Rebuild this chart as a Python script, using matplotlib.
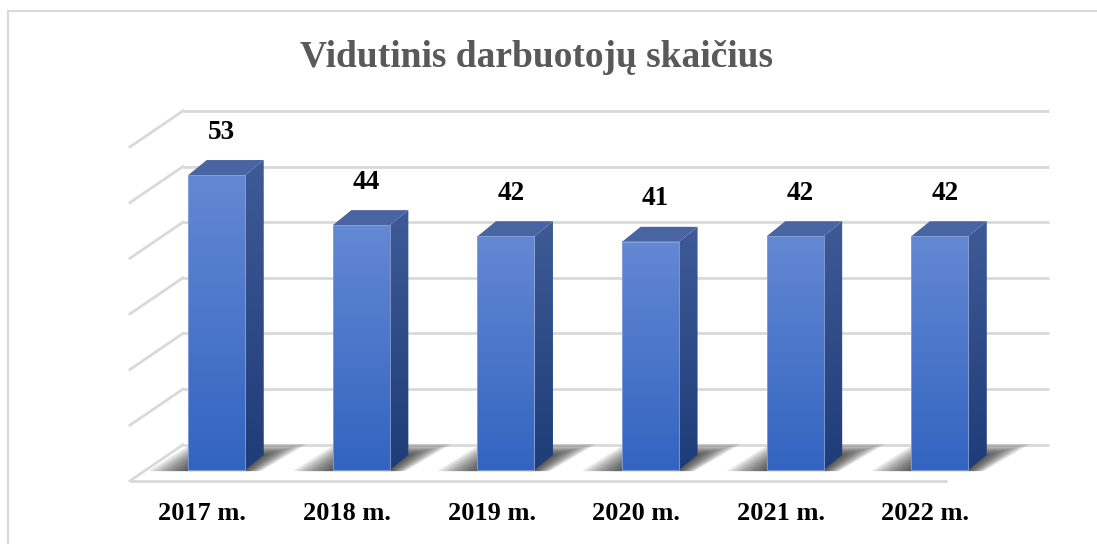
import numpy as np
import matplotlib
matplotlib.use("Agg")
import matplotlib.pyplot as plt
from matplotlib.patches import Polygon
from matplotlib.colors import LinearSegmentedColormap
from matplotlib.lines import Line2D

# ---- data ----
metai = ["2017 m.", "2018 m.", "2019 m.", "2020 m.", "2021 m.", "2022 m."]
darbuotojai = [53, 44, 42, 41, 42, 42]
tinklelis = [0, 10, 20, 30, 40, 50, 60]
pavadinimas = "Vidutinis darbuotojų skaičius"

# ---- pseudo 3D geometry (data units) ----
floor_dx, floor_dy = 0.366, 6.47      # full floor depth
bar_pos = 0.3                          # where bars stand inside the floor depth
bar_w = 0.394
bar_dx, bar_dy = 0.128, 2.7            # bar depth

front_top = LinearSegmentedColormap.from_list("f", ["#3264c1", "#6488d3"])
side_cmap = LinearSegmentedColormap.from_list("s", ["#1e3c77", "#3f5b97"])
grad = np.linspace(0, 1, 256).reshape(-1, 1)

fig = plt.figure(figsize=(10.97, 5.44), dpi=100)
ax = fig.add_axes([0, 0, 1, 1])
ax.axis("off")

n = len(metai)
grid_c = "#d9d9d9"

# back wall + left wall gridlines
bx0 = -0.5 + floor_dx
bx1 = n - 0.5 + floor_dx - 0.01
shift = floor_dy * (1 - bar_pos)
for g in tinklelis:
    yb = g + shift
    ax.plot([bx0, bx1], [yb, yb], color=grid_c, lw=2, zorder=1,
            solid_capstyle="butt")
    ax.plot([-0.5, bx0], [yb - floor_dy, yb], color=grid_c, lw=2, zorder=1)
# floor front edge
yf = -floor_dy * bar_pos
ax.plot([-0.5, n - 0.5 - 0.35], [yf, yf], color=grid_c, lw=2, zorder=1,
        solid_capstyle="butt")

for i, v in enumerate(darbuotojai):
    x0 = i - bar_w / 2 + floor_dx * bar_pos - 0.01
    x1 = x0 + bar_w

    # soft shadow on the floor
    for k in range(9):
        e = 0.02 + k * 0.024
        ey = 0.2 + k * 0.22
        shadow = Polygon([(x0 - e * 1.3, -0.2), (x1 + e * 0.5, -0.2),
                          (x1 + bar_dx + e * 1.4, bar_dy + ey),
                          (x0 + bar_dx - e * 0.5, bar_dy + ey)],
                         closed=True, facecolor="black", edgecolor="none",
                         alpha=0.1, zorder=2)
        ax.add_patch(shadow)

    # side face
    side = Polygon([(x1, 0), (x1 + bar_dx, bar_dy), (x1 + bar_dx, v + bar_dy),
                    (x1, v)], closed=True, facecolor="none", edgecolor="none",
                   zorder=3)
    ax.add_patch(side)
    im = ax.imshow(grad, extent=[x1, x1 + bar_dx, 0, v + bar_dy],
                   origin="lower", cmap=side_cmap, aspect="auto", zorder=3)
    im.set_clip_path(side)

    # top face
    top = Polygon([(x0, v), (x1, v), (x1 + bar_dx, v + bar_dy),
                   (x0 + bar_dx, v + bar_dy)], closed=True,
                  facecolor="#4865a1", edgecolor="none", zorder=3)
    ax.add_patch(top)

    # front face
    ax.imshow(grad, extent=[x0, x1, 0, v], origin="lower", cmap=front_top,
              aspect="auto", zorder=4)
    ax.add_patch(Polygon([(x0, 0), (x1, 0), (x1, v), (x0, v)], closed=True,
                         facecolor="none", edgecolor="#88a3dc", lw=0.6,
                         zorder=5))

    # value label
    ax.text(x0 + bar_w / 2 + 0.035, v + 7.7, str(v), ha="center", va="center",
            fontsize=19.5, fontweight="bold", family="Liberation Serif",
            color="black", zorder=6)

    # category label
    ax.text(i, -7.9, metai[i], ha="center", va="center", fontsize=19,
            fontweight="bold", family="Liberation Serif", color="black")

ax.set_xlim(-1.399, 6.187)
ax.set_ylim(-13.30, 84.46)

fig.text(0.4895, 0.895, pavadinimas, ha="center", va="center", fontsize=27,
         fontweight="bold", family="Liberation Serif", color="#595959")

# chart area border (top and left visible)
fig.add_artist(Line2D([8 / 1097, 8 / 1097], [0, 1 - 11 / 544],
                      transform=fig.transFigure, color=grid_c, lw=1.5))
fig.add_artist(Line2D([8 / 1097, 1], [1 - 11 / 544, 1 - 11 / 544],
                      transform=fig.transFigure, color=grid_c, lw=1.5))

fig.savefig("out.png", dpi=100)
